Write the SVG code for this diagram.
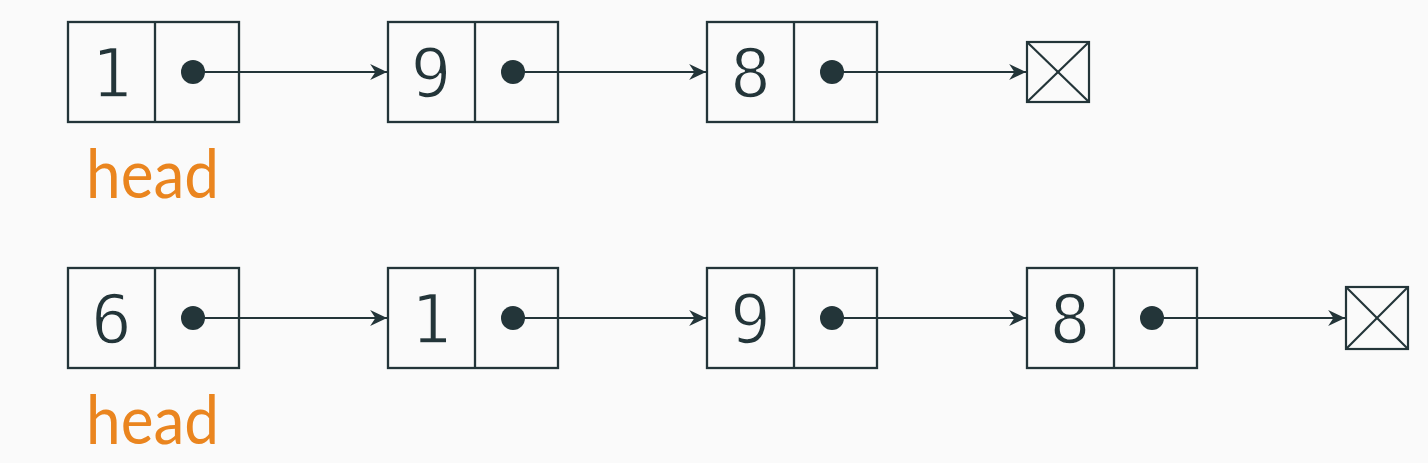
<svg xmlns="http://www.w3.org/2000/svg" width="1428" height="463" viewBox="0 0 1428 463">
<style>
.box{fill:none;stroke:#233539;stroke-width:2.3}
.dot{fill:#233539}
.num{font-family:"DejaVu Sans Mono","Liberation Mono",monospace;font-size:68px;fill:#233539;text-anchor:middle;stroke:#fafafa;stroke-width:1.6}
.lbl{font-family:Lato,"Liberation Sans",sans-serif;font-size:68px;fill:#ea851f}
.conn{stroke:#233539;stroke-width:1.8;fill:none;marker-end:url(#ah)}
.nul{fill:none;stroke:#233539;stroke-width:2.2}
</style>
<defs>
<marker id="ah" markerUnits="userSpaceOnUse" markerWidth="20" markerHeight="20" viewBox="-17 -9 19 18" refX="0" refY="0" orient="auto">
<path d="M0,0 L-16,-7.5 L-11,0 L-16,7.5 Z" fill="#233539"/>
</marker>
</defs>
<rect width="1428" height="463" fill="#fafafa"/>
<g id="connectors">
<line class="conn" x1="193" y1="72" x2="387" y2="72"/>
<line class="conn" x1="513" y1="72" x2="706" y2="72"/>
<line class="conn" x1="832" y1="72" x2="1026" y2="72"/>
<line class="conn" x1="193" y1="318" x2="387" y2="318"/>
<line class="conn" x1="513" y1="318" x2="706" y2="318"/>
<line class="conn" x1="832" y1="318" x2="1026" y2="318"/>
<line class="conn" x1="1152" y1="318" x2="1345" y2="318"/>
</g>
<g id="r1n1"><rect class="box" x="68" y="22" width="171" height="100"/><line class="box" x1="155" y1="22" x2="155" y2="122"/><text class="num" x="111.5" y="97">1</text><circle class="dot" cx="193" cy="72" r="12"/></g>
<g id="r1n2"><rect class="box" x="388" y="22" width="170" height="100"/><line class="box" x1="475" y1="22" x2="475" y2="122"/><text class="num" x="431" y="97">9</text><circle class="dot" cx="513" cy="72" r="12"/></g>
<g id="r1n3"><rect class="box" x="707" y="22" width="170" height="100"/><line class="box" x1="794" y1="22" x2="794" y2="122"/><text class="num" x="750.5" y="97">8</text><circle class="dot" cx="832" cy="72" r="12"/></g>
<g id="r1null"><rect class="nul" x="1027" y="42" width="62" height="60"/><line class="nul" x1="1027" y1="42" x2="1089" y2="102"/><line class="nul" x1="1089" y1="42" x2="1027" y2="102"/></g>
<g id="r1head"><text class="lbl" x="86" y="198" textLength="133" lengthAdjust="spacingAndGlyphs">head</text></g>
<g id="r2n1"><rect class="box" x="68" y="268" width="171" height="100"/><line class="box" x1="155" y1="268" x2="155" y2="368"/><text class="num" x="111.5" y="343">6</text><circle class="dot" cx="193" cy="318" r="12"/></g>
<g id="r2n2"><rect class="box" x="388" y="268" width="170" height="100"/><line class="box" x1="475" y1="268" x2="475" y2="368"/><text class="num" x="431" y="343">1</text><circle class="dot" cx="513" cy="318" r="12"/></g>
<g id="r2n3"><rect class="box" x="707" y="268" width="170" height="100"/><line class="box" x1="794" y1="268" x2="794" y2="368"/><text class="num" x="750.5" y="343">9</text><circle class="dot" cx="832" cy="318" r="12"/></g>
<g id="r2n4"><rect class="box" x="1027" y="268" width="170" height="100"/><line class="box" x1="1114" y1="268" x2="1114" y2="368"/><text class="num" x="1070" y="343">8</text><circle class="dot" cx="1152" cy="318" r="12"/></g>
<g id="r2null"><rect class="nul" x="1346" y="287" width="62" height="62"/><line class="nul" x1="1346" y1="287" x2="1408" y2="349"/><line class="nul" x1="1408" y1="287" x2="1346" y2="349"/></g>
<g id="r2head"><text class="lbl" x="86" y="444" textLength="133" lengthAdjust="spacingAndGlyphs">head</text></g>
</svg>
